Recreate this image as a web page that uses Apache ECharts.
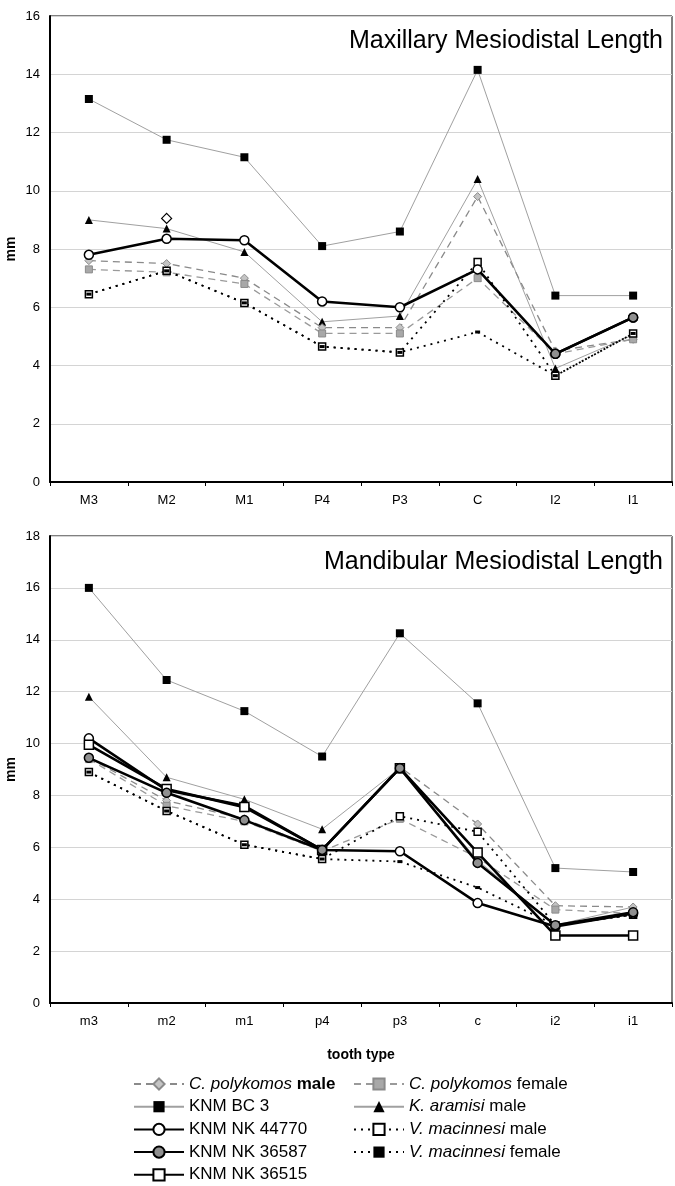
<!DOCTYPE html>
<html>
<head>
<meta charset="utf-8">
<script src="https://cdn.jsdelivr.net/npm/echarts@6/dist/echarts.min.js"></script>
<style>
html,body{margin:0;padding:0;background:#fff;}
#c{width:675px;height:1186px;}
</style>
</head>
<body>
<div id="c"></div>
<script>
const categoriesTop = ['M3','M2','M1','P4','P3','C','I2','I1'];
const categoriesBottom = ['m3','m2','m1','p4','p3','c','i2','i1'];
const yTicksTop = [0,2,4,6,8,10,12,14,16];
const yTicksBottom = [0,2,4,6,8,10,12,14,16,18];

// Maxillary (top)
const cpMaleTop     = [7.6, 7.5, 7.0, 5.3, 5.3, 9.8, 4.5, 4.9];
const cpFemaleTop   = [7.3, 7.2, 6.8, 5.1, 5.1, 7.0, 4.4, 4.9];
const bc3Top        = [13.15, 11.75, 11.15, 8.1, 8.6, 14.15, 6.4, 6.4];
const aramisiTop    = [9.0, 8.7, 7.9, 5.5, 5.7, 10.4, 3.9, 5.05];
const nk44770Top    = [7.8, 8.35, 8.3, 6.2, 6.0, 7.3, 4.4, 5.65];
const nk36587Top    = [null, null, null, null, null, null, 4.4, 5.65];
const vmMaleTop     = [6.45, 7.25, 6.15, 4.65, 4.45, 7.55, 3.65, 5.1];
const vmFemaleTop   = [6.45, 7.25, 6.15, 4.65, 4.45, 5.15, 3.65, 5.1];
const extraTop      = [null, 9.05, null, null, null, null, null, null];

// Mandibular (bottom)
const cpMaleBot     = [9.45, 7.8, 7.1, 5.9, 9.1, 6.9, 3.75, 3.7];
const cpFemaleBot   = [9.4, 7.6, 7.0, 5.85, 7.1, 5.6, 3.6, 3.45];
const bc3Bot        = [16.0, 12.45, 11.25, 9.5, 14.25, 11.55, 5.2, 5.05];
const aramisiBot    = [11.8, 8.7, 7.85, 6.7, 9.05, 5.5, 3.0, 3.7];
const nk44770Bot    = [10.2, 8.2, 7.6, 5.9, 5.85, 3.85, 2.95, 3.45];
const nk36587Bot    = [9.45, 8.1, 7.05, 5.9, 9.05, 5.4, 3.0, 3.5];
const nk36515Bot    = [9.95, 8.25, 7.55, 5.9, 9.05, 5.8, 2.6, 2.6];
const vmMaleBot     = [8.9, 7.4, 6.1, 5.55, 7.2, 6.6, 3.0, 3.4];
const vmFemaleBot   = [8.9, 7.4, 6.1, 5.55, 5.45, 4.45, 3.0, 3.4];

const FONT = "'Liberation Sans', Arial, sans-serif";

const styles = {
  'C. polykomos male': {
    lineStyle:{color:'#8a8a8a', width:1.3, type:[7,5]},
    symbol:'diamond', symbolSize:8,
    itemStyle:{color:'#c4c4c4', borderColor:'#8a8a8a', borderWidth:1}
  },
  'C. polykomos female': {
    lineStyle:{color:'#9a9a9a', width:1.3, type:[7,5]},
    symbol:'rect', symbolSize:7,
    itemStyle:{color:'#a8a8a8', borderColor:'#8a8a8a', borderWidth:1}
  },
  'KNM BC 3': {
    lineStyle:{color:'#a0a0a0', width:1, type:'solid'},
    symbol:'rect', symbolSize:8,
    itemStyle:{color:'#000', borderColor:'#000', borderWidth:0}
  },
  'K. aramisi male': {
    lineStyle:{color:'#a0a0a0', width:1, type:'solid'},
    symbol:'triangle', symbolSize:8,
    itemStyle:{color:'#000', borderColor:'#000', borderWidth:0}
  },
  'KNM NK 44770': {
    lineStyle:{color:'#000', width:2.6, type:'solid'},
    symbol:'circle', symbolSize:9,
    itemStyle:{color:'#fff', borderColor:'#000', borderWidth:1.5}
  },
  'KNM NK 36587': {
    lineStyle:{color:'#000', width:2.6, type:'solid'},
    symbol:'circle', symbolSize:9,
    itemStyle:{color:'#909090', borderColor:'#000', borderWidth:1.5}
  },
  'KNM NK 36515': {
    lineStyle:{color:'#000', width:2.6, type:'solid'},
    symbol:'rect', symbolSize:9,
    itemStyle:{color:'#fff', borderColor:'#000', borderWidth:1.5}
  },
  'V. macinnesi male': {
    lineStyle:{color:'#000', width:1.8, type:[2,5]},
    symbol:'rect', symbolSize:7,
    itemStyle:{color:'#fff', borderColor:'#000', borderWidth:1.5}
  },
  'V. macinnesi female': {
    lineStyle:{color:'#000', width:1.8, type:[2,5]},
    symbol:'rect', symbolSize:[5,3],
    itemStyle:{color:'#000', borderColor:'#000', borderWidth:0}
  }
};

function mk(name, data, idx, z) {
  const s = styles[name];
  return Object.assign({
    name: name, type:'line', data: data,
    xAxisIndex: idx, yAxisIndex: idx,
    showSymbol:true, connectNulls:false, animation:false,
    z: z, emphasis:{disabled:true}
  }, JSON.parse(JSON.stringify(s)));
}

const series = [
  mk('KNM BC 3', bc3Top, 0, 2),
  mk('K. aramisi male', aramisiTop, 0, 3),
  mk('C. polykomos male', cpMaleTop, 0, 4),
  mk('C. polykomos female', cpFemaleTop, 0, 4),
  mk('V. macinnesi male', vmMaleTop, 0, 5),
  mk('V. macinnesi female', vmFemaleTop, 0, 5),
  mk('KNM NK 44770', nk44770Top, 0, 6),
  mk('KNM NK 36587', nk36587Top, 0, 7),
  {
    name:'extra', type:'line', data: extraTop, xAxisIndex:0, yAxisIndex:0,
    symbol:'diamond', symbolSize:10, lineStyle:{width:0}, animation:false,
    itemStyle:{color:'#fff', borderColor:'#000', borderWidth:1.2}, z:8
  },
  mk('KNM BC 3', bc3Bot, 1, 2),
  mk('K. aramisi male', aramisiBot, 1, 3),
  mk('C. polykomos male', cpMaleBot, 1, 4),
  mk('C. polykomos female', cpFemaleBot, 1, 4),
  mk('V. macinnesi male', vmMaleBot, 1, 5),
  mk('V. macinnesi female', vmFemaleBot, 1, 5),
  mk('KNM NK 44770', nk44770Bot, 1, 6),
  mk('KNM NK 36587', nk36587Bot, 1, 7),
  mk('KNM NK 36515', nk36515Bot, 1, 6)
];

function yAxis(idx, max) {
  return {
    type:'value', gridIndex: idx, min:0, max:max, interval:2,
    name:'mm', nameLocation:'middle', nameGap:32, nameMoveOverlap:false,
    nameTextStyle:{fontFamily:FONT, fontSize:14, fontWeight:'bold', color:'#000'},
    axisLine:{show:true, lineStyle:{color:'#000', width:2}},
    axisTick:{show:false},
    axisLabel:{fontFamily:FONT, fontSize:13, color:'#000', margin:10},
    splitLine:{show:true, lineStyle:{color:'#d4d4d4', width:1.2}}
  };
}
function xAxis(idx, cats, name) {
  return {
    type:'category', gridIndex: idx, data: cats, boundaryGap:true,
    name: name, nameLocation:'middle', nameGap:45,
    nameTextStyle:{fontFamily:FONT, fontSize:14, fontWeight:'bold', color:'#000'},
    axisLine:{show:true, lineStyle:{color:'#000', width:2}},
    axisTick:{show:true, length:4, lineStyle:{color:'#000'}},
    axisLabel:{fontFamily:FONT, fontSize:13, color:'#000', margin:12}
  };
}

const legendText = {
  fontFamily:FONT, fontSize:17, color:'#000', lineHeight:20,
  rich:{
    i:{fontFamily:FONT, fontSize:17, fontStyle:'italic', color:'#000'},
    b:{fontFamily:FONT, fontSize:17, fontWeight:'bold', color:'#000'},
    n:{fontFamily:FONT, fontSize:17, color:'#000'}
  }
};
function legendFmt(name) {
  if (name === 'C. polykomos male') return '{i|C. polykomos} {b|male}';
  if (name === 'C. polykomos female') return '{i|C. polykomos} {n|female}';
  if (name === 'K. aramisi male') return '{i|K. aramisi} {n|male}';
  if (name === 'V. macinnesi male') return '{i|V. macinnesi} {n|male}';
  if (name === 'V. macinnesi female') return '{i|V. macinnesi} {n|female}';
  return name;
}

const option = {
  backgroundColor:'#fff',
  animation:false,
  title:[
    {text:'Maxillary Mesiodistal Length', right:12, top:29, padding:0,
     textStyle:{fontFamily:FONT, fontSize:25, fontWeight:'normal', color:'#000'}},
    {text:'Mandibular Mesiodistal Length', right:12, top:550, padding:0,
     textStyle:{fontFamily:FONT, fontSize:25, fontWeight:'normal', color:'#000'}}
  ],
  grid:[
    {left:50, right:3, top:16, height:466, show:true, borderColor:'#000', borderWidth:1,
     backgroundColor:'transparent', outerBoundsMode:'none', containLabel:false},
    {left:50, right:3, top:536, height:467, show:true, borderColor:'#000', borderWidth:1,
     backgroundColor:'transparent', outerBoundsMode:'none', containLabel:false}
  ],
  xAxis:[ xAxis(0, categoriesTop, ''), xAxis(1, categoriesBottom, 'tooth type') ],
  yAxis:[ yAxis(0, 16), yAxis(1, 18) ],
  legend:[
    {
      data:['C. polykomos male','KNM BC 3','KNM NK 44770','KNM NK 36587','KNM NK 36515'],
      orient:'vertical', left:133, top:1074, itemWidth:50, itemHeight:14, itemGap:2.7,
      selectedMode:false, textStyle:legendText, formatter:legendFmt, padding:0
    },
    {
      data:['C. polykomos female','K. aramisi male','V. macinnesi male','V. macinnesi female'],
      orient:'vertical', left:353, top:1074, itemWidth:50, itemHeight:14, itemGap:2.7,
      selectedMode:false, textStyle:legendText, formatter:legendFmt, padding:0
    }
  ],
  series: series
};

const chart = echarts.init(document.getElementById('c'), null, {renderer:'canvas'});
chart.setOption(option);
</script>
</body>
</html>
